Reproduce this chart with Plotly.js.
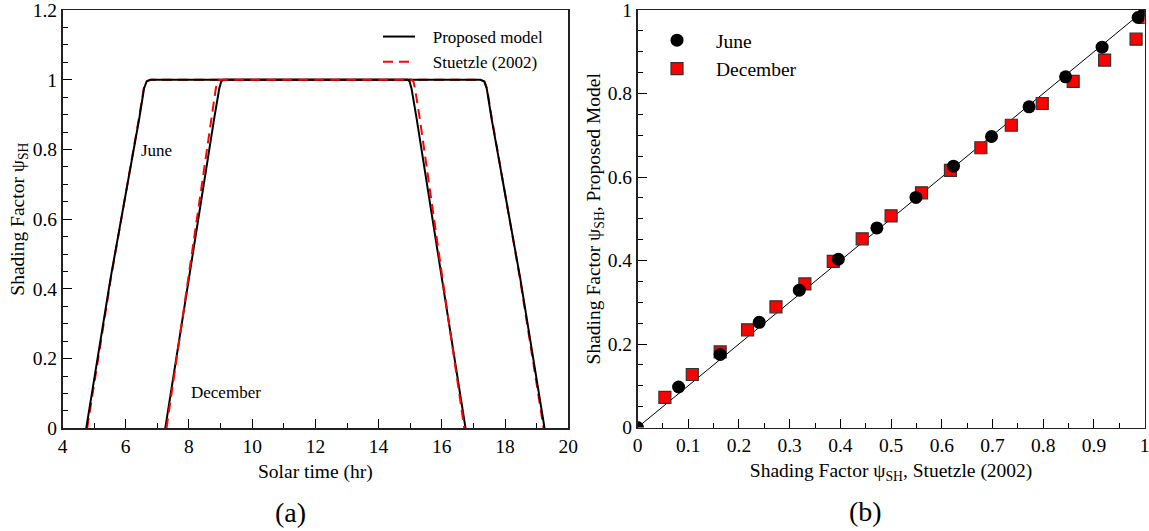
<!DOCTYPE html>
<html>
<head>
<meta charset="utf-8">
<script src="https://cdn.plot.ly/plotly-3.0.1.min.js"></script>
<style>html,body{margin:0;padding:0;background:#fff;}#chart{width:1149px;height:531px;}</style>
</head>
<body>
<div id="chart"></div>
<script>
// ---- Panel (a): shading factor vs solar time ----
const shadeLevels = [0, 0.43, 0.89, 0.975, 0.995, 1, 1, 0.995, 0.975, 0.89, 0.43, 0];
const hoursJuneModel     = [4.75, 5.52, 6.43, 6.58, 6.66, 6.78, 17.22, 17.34, 17.42, 17.57, 18.48, 19.25];
const hoursJuneStuetzle  = [4.78, 5.53, 6.42, 6.57, 6.65, 6.78, 17.22, 17.35, 17.43, 17.58, 18.47, 19.22];
const hoursDecModel      = [7.25, 7.99, 8.80, 8.96, 9.02, 9.09, 14.91, 14.98, 15.04, 15.20, 16.01, 16.75];
const hoursDecStuetzle   = [7.29, 7.98, 8.70, 8.85, 8.90, 8.96, 15.04, 15.10, 15.15, 15.30, 16.02, 16.71];
const timeTicks = [4, 6, 8, 10, 12, 14, 16, 18, 20];
const shadeTicksA = [0, 0.2, 0.4, 0.6, 0.8, 1, 1.2];

// ---- Panel (b): parity plot ----
const juneStuetzle = [0, 0.081, 0.163, 0.240, 0.319, 0.396, 0.472, 0.549, 0.623, 0.698, 0.772, 0.844, 0.916, 0.987, 1.0];
const juneModel    = [0, 0.097, 0.175, 0.252, 0.329, 0.403, 0.478, 0.551, 0.626, 0.697, 0.768, 0.840, 0.911, 0.982, 1.0];
const decStuetzle  = [0.054, 0.108, 0.163, 0.217, 0.273, 0.330, 0.386, 0.443, 0.500, 0.560, 0.617, 0.677, 0.737, 0.798, 0.859, 0.921, 0.983, 1.0];
const decModel     = [0.072, 0.127, 0.181, 0.234, 0.289, 0.344, 0.398, 0.452, 0.507, 0.562, 0.616, 0.670, 0.724, 0.776, 0.829, 0.880, 0.930, 0.982];
const parityLine   = [0, 1];
const shadeTicksBx = [0, 0.1, 0.2, 0.3, 0.4, 0.5, 0.6, 0.7, 0.8, 0.9, 1];
const shadeTicksBy = [0, 0.2, 0.4, 0.6, 0.8, 1];

const FONT = "'Liberation Serif', 'Times New Roman', Times, serif";
const W = 1149, H = 531;
const px = v => v / W;
const py = v => 1 - v / H;
const NB = '\u00A0';

const blackLine = {color: '#000', width: 2};
const redDash = {color: '#ff0000', width: 2, dash: '10px,6px'};

const traces = [
  {x: hoursJuneStuetzle, y: shadeLevels, type: 'scatter', mode: 'lines', line: redDash, name: 'Stuetzle (2002)', showlegend: false, xaxis: 'x', yaxis: 'y'},
  {x: hoursJuneModel, y: shadeLevels, type: 'scatter', mode: 'lines', line: blackLine, name: NB+NB+NB+'Proposed model', legendrank: 1, xaxis: 'x', yaxis: 'y'},
  {x: hoursDecModel, y: shadeLevels, type: 'scatter', mode: 'lines', line: blackLine, name: 'Proposed model', showlegend: false, xaxis: 'x', yaxis: 'y'},
  {x: hoursDecStuetzle, y: shadeLevels, type: 'scatter', mode: 'lines', line: redDash, name: NB+NB+NB+'Stuetzle (2002)', legendrank: 2, xaxis: 'x', yaxis: 'y'},

  {x: parityLine, y: parityLine, type: 'scatter', mode: 'lines', line: {color: '#000', width: 1}, showlegend: false, xaxis: 'x2', yaxis: 'y2'},
  {x: decStuetzle, y: decModel, type: 'scatter', mode: 'markers', name: 'December', legend: 'legend2', legendrank: 2,
   marker: {symbol: 'square', size: 12, color: '#ff0000', line: {color: '#333', width: 1.2}}, xaxis: 'x2', yaxis: 'y2'},
  {x: juneStuetzle, y: juneModel, type: 'scatter', mode: 'markers', name: 'June', legend: 'legend2', legendrank: 1,
   marker: {symbol: 'circle', size: 13, color: '#000'}, xaxis: 'x2', yaxis: 'y2'}
];

const tfont = {family: FONT, size: 19.5, color: '#000'};
const axisBase = {
  showline: true, mirror: true, linecolor: '#222', linewidth: 1.5,
  ticks: 'inside', ticklen: 9, tickwidth: 1, tickcolor: '#000',
  showgrid: false, zeroline: false, tickmode: 'array',
  ticklabeloverflow: 'allow',
  tickfont: tfont,
  fixedrange: true
};
const minorTicks = d => ({ticks: 'inside', ticklen: 5, dtick: d, tickcolor: '#000', tickmode: 'linear'});

const layout = {
  width: W, height: H,
  margin: {l: 0, r: 0, t: 0, b: 0},
  paper_bgcolor: '#fff', plot_bgcolor: '#fff',
  font: {family: FONT, color: '#000'},
  xaxis: Object.assign({}, axisBase, {
    domain: [px(62.5), px(568.3)], range: [4, 20], tickvals: timeTicks, anchor: 'y',
    minor: Object.assign(minorTicks(1), {tick0: 4}),
    title: {text: 'Solar time (hr)', font: tfont, standoff: 8}
  }),
  yaxis: Object.assign({}, axisBase, {
    domain: [py(428.3), py(10)], range: [0, 1.2], tickvals: shadeTicksA, anchor: 'x',
    minor: Object.assign(minorTicks(0.05), {tick0: 0}),
    title: {text: 'Shading Factor ψ<sub>SH</sub>', font: tfont, standoff: 3}
  }),
  xaxis2: Object.assign({}, axisBase, {
    domain: [px(637.5), px(1144.7)], range: [0, 1], tickvals: shadeTicksBx, anchor: 'y2',
    minor: Object.assign(minorTicks(0.05), {tick0: 0}),
    title: {text: 'Shading Factor ψ<sub>SH</sub>, Stuetzle (2002)', font: tfont, standoff: 8}
  }),
  yaxis2: Object.assign({}, axisBase, {
    domain: [py(427.5), py(10)], range: [0, 1], tickvals: shadeTicksBy, anchor: 'x2',
    minor: Object.assign(minorTicks(0.05), {tick0: 0}),
    title: {text: 'Shading Factor ψ<sub>SH</sub>, Proposed Model', font: tfont, standoff: 2}
  }),
  legend: {
    x: px(378), y: py(19), xanchor: 'left', yanchor: 'top',
    bgcolor: 'rgba(0,0,0,0)', borderwidth: 0, itemwidth: 32,
    font: {family: FONT, size: 17, color: '#000'}, tracegroupgap: 0
  },
  legend2: {
    x: px(638), y: py(21), xanchor: 'left', yanchor: 'top',
    bgcolor: 'rgba(0,0,0,0)', borderwidth: 0, itemwidth: 68,
    font: {family: FONT, size: 19.5, color: '#000'}, tracegroupgap: 0
  },
  annotations: [
    {text: 'June', x: 6.98, y: 0.797, xref: 'x', yref: 'y', showarrow: false, font: {family: FONT, size: 17, color: '#000'}},
    {text: 'December', x: 9.17, y: 0.102, xref: 'x', yref: 'y', showarrow: false, font: {family: FONT, size: 17, color: '#000'}},
    {text: '(a)', x: 0.4508, y: -0.201, xref: 'x domain', yref: 'y domain', showarrow: false, yanchor: 'middle', font: {family: FONT, size: 28, color: '#000'}},
    {text: '(b)', x: 0.4505, y: -0.201, xref: 'x2 domain', yref: 'y2 domain', showarrow: false, yanchor: 'middle', font: {family: FONT, size: 28, color: '#000'}}
  ],
  showlegend: true
};

Plotly.newPlot('chart', traces, layout, {displayModeBar: false, staticPlot: true});
</script>
</body>
</html>
